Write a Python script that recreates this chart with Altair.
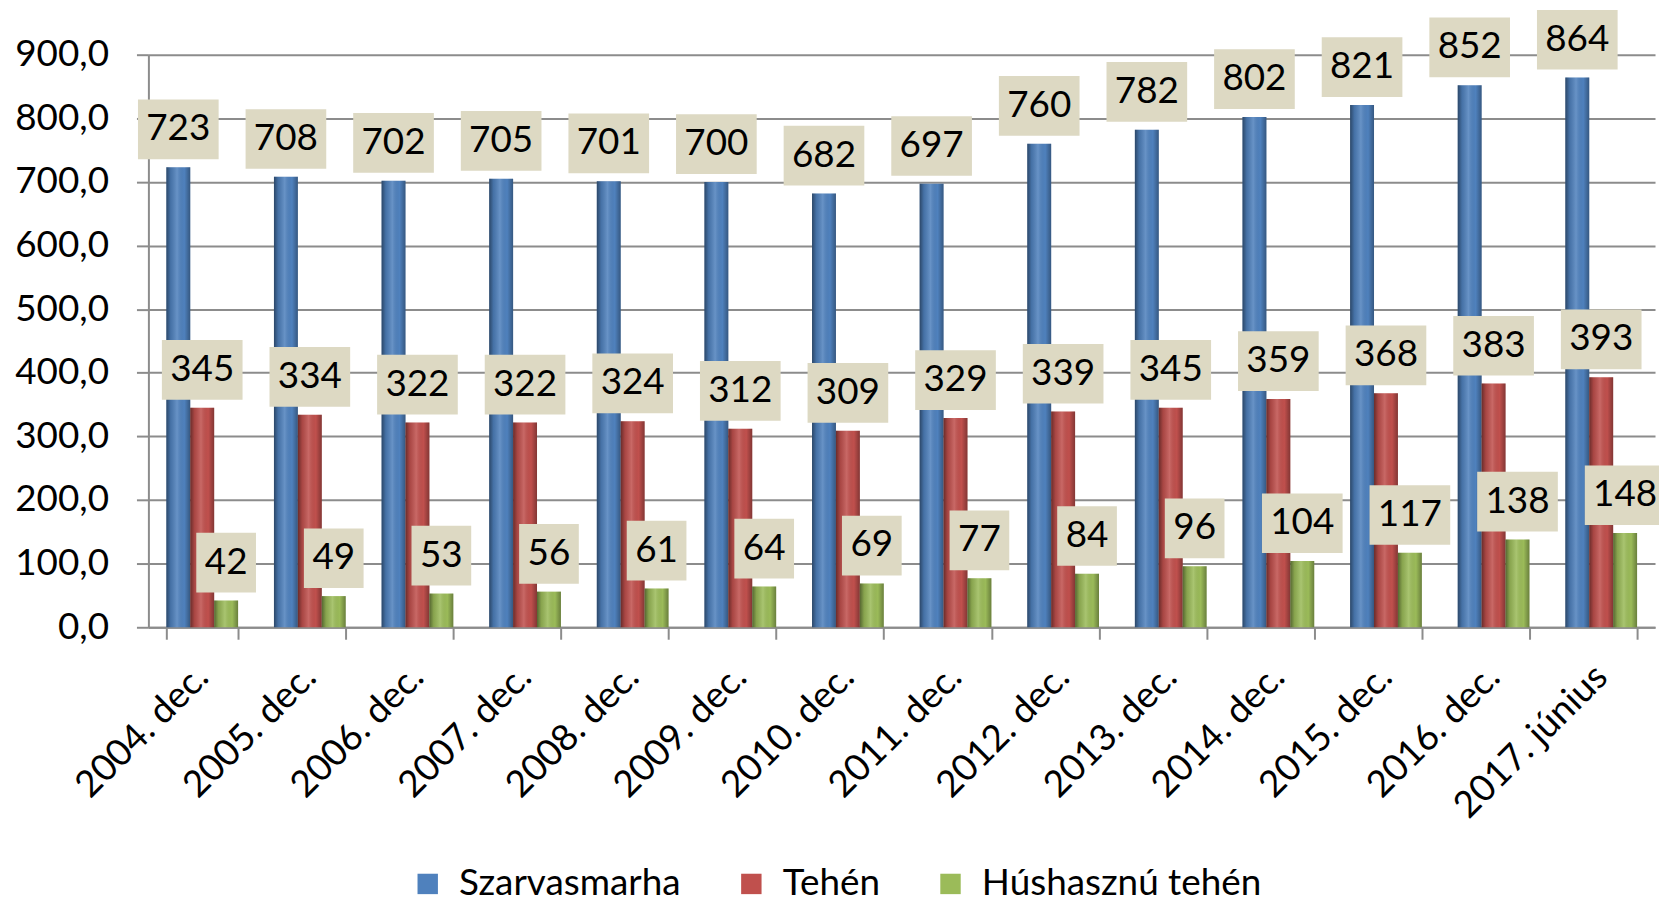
import altair as alt
import pandas as pd

years = ["2004. dec.", "2005. dec.", "2006. dec.", "2007. dec.", "2008. dec.",
         "2009. dec.", "2010. dec.", "2011. dec.", "2012. dec.", "2013. dec.",
         "2014. dec.", "2015. dec.", "2016. dec.", "2017. június"]
series = ["Szarvasmarha", "Tehén", "Húshasznú tehén"]
szarvasmarha = [723, 708, 702, 705, 701, 700, 682, 697, 760, 782, 802, 821, 852, 864]
tehen = [345, 334, 322, 322, 324, 312, 309, 329, 339, 345, 359, 368, 383, 393]
hushasznu = [42, 49, 53, 56, 61, 64, 69, 77, 84, 96, 104, 117, 138, 148]
colors = ["#4F81BD", "#C0504D", "#9BBB59"]
y_ticks = [0, 100, 200, 300, 400, 500, 600, 700, 800, 900]

rows = []
for s, vals in zip(series, [szarvasmarha, tehen, hushasznu]):
    for yr, v in zip(years, vals):
        rows.append({"year": yr, "series": s, "value": v, "label": str(v)})
df = pd.DataFrame(rows)

FONT = "Lato"
GRAY = "#8C8C8C"
BOX = "#DDD9C3"
PATH3 = "M-1,-0.74L1,-0.74L1,0.74L-1,0.74Z"
PATH2 = "M-0.74,-0.74L0.74,-0.74L0.74,0.74L-0.74,0.74Z"

x_enc = alt.X(
    "year:N", sort=years,
    scale=alt.Scale(paddingInner=0.3333, paddingOuter=0.1667),
    axis=alt.Axis(title=None, labelAngle=-45, labelAlign="right", labelBaseline="middle",
                  labelFont=FONT, labelFontSize=37, labelColor="black", labelLimit=0,
                  tickBand="extent", tickSize=12, tickColor=GRAY, tickWidth=2,
                  domainColor=GRAY, domainWidth=2, labelPadding=32, grid=False),
)
xo_enc = alt.XOffset("series:N", sort=series, scale=alt.Scale(paddingInner=0, paddingOuter=0))
y_enc = alt.Y(
    "value:Q", scale=alt.Scale(domain=[0, 900], nice=False),
    axis=alt.Axis(title=None, values=y_ticks,
                  labelExpr="replace(format(datum.value, '.1f'), '.', ',')",
                  labelFont=FONT, labelFontSize=37, labelColor="black",
                  tickSize=12, tickColor=GRAY, tickWidth=2, labelPadding=28,
                  domainColor=GRAY, domainWidth=2,
                  grid=True, gridColor=GRAY, gridWidth=2),
)

base = alt.Chart(df)

bars = base.mark_bar().encode(
    x=x_enc, xOffset=xo_enc, y=y_enc,
    color=alt.Color("series:N", sort=series,
                    scale=alt.Scale(domain=series, range=colors),
                    legend=alt.Legend(orient="none", legendX=262, legendY=814,
                                      direction="horizontal", title=None,
                                      symbolType="square", symbolSize=420,
                                      symbolStrokeWidth=0, symbolOpacity=1,
                                      labelFont=FONT, labelFontSize=37, labelColor="black",
                                      labelLimit=0, labelOffset=13, columnPadding=52)),
)

grad = alt.LinearGradient(
    gradient="linear", x1=0, x2=1, y1=0, y2=0,
    stops=[
        alt.GradientStop(offset=0, color="rgba(0,0,0,0.45)"),
        alt.GradientStop(offset=0.18, color="rgba(0,0,0,0.12)"),
        alt.GradientStop(offset=0.45, color="rgba(255,255,255,0.14)"),
        alt.GradientStop(offset=0.75, color="rgba(0,0,0,0.0)"),
        alt.GradientStop(offset=1, color="rgba(0,0,0,0.32)"),
    ],
)
shade = base.mark_bar(color=grad).encode(x=x_enc, xOffset=xo_enc, y=y_enc)

boxes = base.transform_calculate(
    shp=f"length(datum.label) >= 3 ? '{PATH3}' : '{PATH2}'"
).mark_point(filled=True, size=6561, opacity=1, fill=BOX, strokeWidth=0, yOffset=-38).encode(
    x=x_enc, xOffset=xo_enc, y=y_enc,
    shape=alt.Shape("shp:N", scale=None, legend=None),
)

texts = base.mark_text(font=FONT, fontSize=37, color="black", align="center",
                       baseline="middle", yOffset=-38).encode(
    x=x_enc, xOffset=xo_enc, y=y_enc, text="label:N",
)

chart = alt.layer(bars, shade, boxes, texts).properties(
    width=1513, height=575,
    autosize=alt.AutoSizeParams(type="none"),
    padding={"left": 141, "top": 45, "right": 4, "bottom": 276},
).configure_view(stroke=None)

chart.save("out.html", embed_options={"renderer": "svg", "actions": False})
